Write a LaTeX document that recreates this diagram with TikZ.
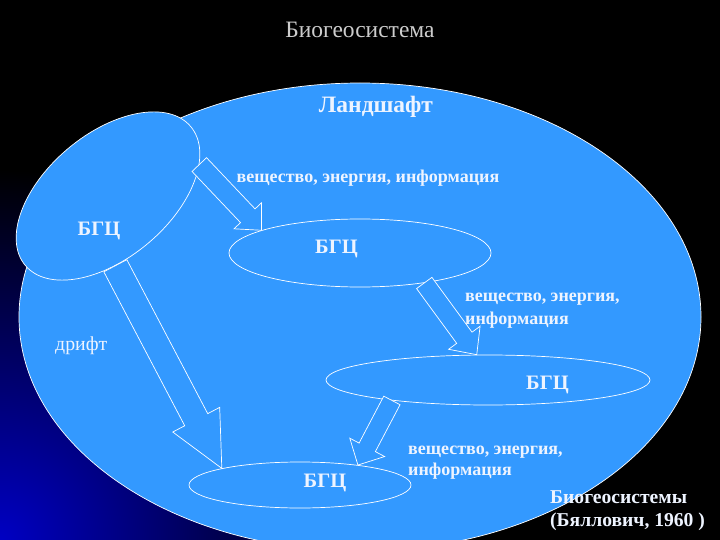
\documentclass[tikz,border=0pt]{standalone}
\usepackage{fontspec}
\setmainfont{Liberation Serif}
\usetikzlibrary{calc,%
                shapes.geometric}
\definecolor{skyblue}{RGB}{51,153,255}
\definecolor{deepblue}{RGB}{0,0,195}
\definecolor{textwhite}{RGB}{238,244,255}
\definecolor{titlegray}{RGB}{205,205,205}

% hollow block arrow: from, tip, shaft half width, head half width, head length
\newcommand{\bigarrow}[5]{%
  \coordinate (bh) at ($(#2)!#5!(#1)$);
  \draw[arrowbox] ($(#1)!#3!90:(#2)$) -- ($(bh)!#3!90:(#2)$)
    -- ($(bh)!#4!90:(#2)$) -- (#2) -- ($(bh)!#4!-90:(#2)$)
    -- ($(bh)!#3!-90:(#2)$) -- ($(#1)!#3!-90:(#2)$) -- cycle;
}

\begin{document}
\begin{tikzpicture}[x=1pt,y=-1pt]
		\tikzstyle{bgc}=[ellipse,draw=white,line width=0.7pt,fill=skyblue,inner sep=0pt]
		\tikzstyle{arrowbox}=[draw=white,line width=0.7pt,fill=skyblue,line join=miter]
		\tikzstyle{BoldLabel}=[text=textwhite,inner sep=0pt,font=\bfseries\fontsize{20.5}{24}\selectfont]
		\tikzstyle{FlowLabel}=[text=textwhite,inner sep=0pt,anchor=base west,font=\bfseries\fontsize{18}{21}\selectfont]
		\useasboundingbox (0,0) rectangle (720,540);
		\fill[black] (0,0) rectangle (720,540);
		\begin{scope}
			\clip (0,0) rectangle (720,540);
			\shade[inner color=deepblue,outer color=black] (0,540) circle (370);
		\end{scope}
		% landscape
		\node[bgc,minimum width=682,minimum height=468] (land) at (360,317) {};
		\node[bgc,minimum width=216,minimum height=124,rotate=40] (bgc1) at (108,196) {};
		\node[bgc,minimum width=262,minimum height=68] (bgc2) at (360,253) {};
		\node[bgc,minimum width=324,minimum height=50] (bgc3) at (488,380) {};
		\node[bgc,minimum width=222,minimum height=46] (bgc4) at (300,485) {};
		% flows
		\bigarrow{bgc1.-21}{bgc2.167}{10pt}{19pt}{20pt}
		\bigarrow{bgc2.-25}{bgc3.114}{9.5pt}{19.5pt}{21pt}
		\bigarrow{bgc3.192}{bgc4.19}{9.2pt}{19.7pt}{20pt}
		\bigarrow{bgc1.-124}{bgc4.168}{13pt}{26.5pt}{55pt}
		% texts
		\node[text=titlegray,inner sep=0pt,anchor=base,font=\fontsize{23.5}{27}\selectfont] (title) at (360,38) {Биогеосистема};
		\node[BoldLabel,anchor=base,font=\bfseries\fontsize{23.5}{27}\selectfont] (name) at (376,113) {Ландшафт};
		\node[FlowLabel,anchor=base] (flow1) at (368,183) {вещество, энергия, информация};
		\node[BoldLabel,anchor=base] (t1) at (99,236) {БГЦ};
		\node[BoldLabel,anchor=base] (t2) at (336.5,253) {БГЦ};
		\node[BoldLabel,anchor=base] (t3) at (547.5,389) {БГЦ};
		\node[BoldLabel,anchor=base] (t4) at (325,487) {БГЦ};
		\node[FlowLabel] (flow2a) at (465,301.5) {вещество, энергия,};
		\node[FlowLabel] (flow2b) at (465,324) {информация};
		\node[FlowLabel] (flow3a) at (408,454.5) {вещество, энергия,};
		\node[FlowLabel] (flow3b) at (408,475) {информация};
		\node[text=textwhite,inner sep=0pt,anchor=base west,font=\fontsize{19.8}{23}\selectfont] (drift) at (55,350) {дрифт};
		\node[BoldLabel,anchor=base west,font=\bfseries\fontsize{19.6}{23}\selectfont] (ref1) at (550,503) {Биогеосистемы};
		\node[BoldLabel,anchor=base west,font=\bfseries\fontsize{19.6}{23}\selectfont] (ref2) at (550,526) {(Бяллович, 1960 )};
	\end{tikzpicture}
\end{document}
